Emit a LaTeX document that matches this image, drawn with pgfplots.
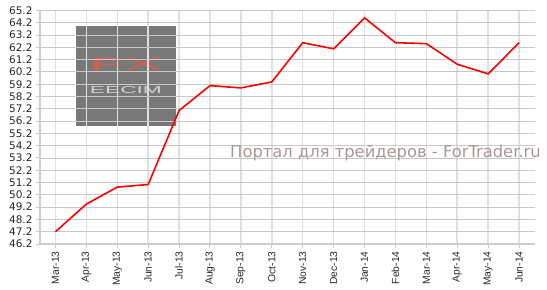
\documentclass[border=0pt]{standalone}
\usepackage{fontspec}
\setmainfont{DejaVu Sans}
\newfontfamily\arialf{Liberation Sans}
\usepackage{graphicx}
\usepackage{pgfplots}
\pgfplotsset{compat=1.18}
\definecolor{gridh}{RGB}{200,200,200}
\definecolor{gridv}{RGB}{224,224,224}
\definecolor{axisc}{RGB}{204,204,204}
\definecolor{wm}{RGB}{170,150,150}
\definecolor{logobg}{RGB}{120,120,120}
\definecolor{logofx}{RGB}{210,95,80}
\definecolor{labc}{RGB}{40,40,40}
\begin{document}
\begin{tikzpicture}
\begin{axis}[
  at={(0,0)}, anchor=south west,
  scale only axis, width=494.5bp, height=233.5bp,
  set layers,
  xmin=-0.5, xmax=15.5, ymin=46.2, ymax=65.2,
  axis lines*=left,
  axis line style={draw=axisc, line width=2.5bp, -},
  xtick={0,1,2,3,4,5,6,7,8,9,10,11,12,13,14,15},
  xticklabels={Mar-13,Apr-13,May-13,Jun-13,Jul-13,Aug-13,Sep-13,Oct-13,Nov-13,Dec-13,Jan-14,Feb-14,Mar-14,Apr-14,May-14,Jun-14},
  ytick={46.2,47.2,48.2,49.2,50.2,51.2,52.2,53.2,54.2,55.2,56.2,57.2,58.2,59.2,60.2,61.2,62.2,63.2,64.2,65.2},
  grid=major,
  x grid style={draw=gridv, line width=1.5bp},
  y grid style={draw=gridh, line width=0.9bp},
  tick align=outside, major tick length=4bp,
  tick style={draw=axisc, line width=1bp},
  x tick label style={rotate=90, anchor=east, font=\arialf\fontsize{10.3}{10.3}\selectfont, text=labc},
  y tick label style={font=\fontsize{10.5}{11}\selectfont, text=labc},
  yticklabel style={/pgf/number format/.cd, fixed, fixed zerofill, precision=1},
  /pgf/number format/assume math mode=true,
  clip=false,
]
\begin{pgfonlayer}{axis background}
\fill[logobg] (axis cs:0.679,63.94) rectangle (axis cs:3.912,55.80);
\node[text=logofx, inner sep=0pt] at (axis cs:2.28,60.81) {\arialf\fontsize{18}{18}\selectfont\scalebox{3.2}[1]{FX}};
\node[text=gray!35, inner sep=0pt] at (axis cs:2.28,58.77) {\arialf\fontsize{12}{12}\selectfont\scalebox{1.9}[0.85]{EECIM}};
\end{pgfonlayer}
\addplot[red, line width=1.6bp, mark=none] coordinates {
(0,47.2) (1,49.45) (2,50.83) (3,51.04) (4,57.06) (5,59.09) (6,58.9) (7,59.39)
(8,62.58) (9,62.08) (10,64.6) (11,62.58) (12,62.5) (13,60.83) (14,60.04) (15,62.58)};
\end{axis}
\node[text=wm, font=\fontsize{16.4}{16.4}\selectfont, inner sep=0pt] at (345.5bp,91bp) {Портал для трейдеров - ForTrader.ru};
\path[use as bounding box] (-40bp,-42bp) rectangle (507bp,244bp);
\end{tikzpicture}
\end{document}
